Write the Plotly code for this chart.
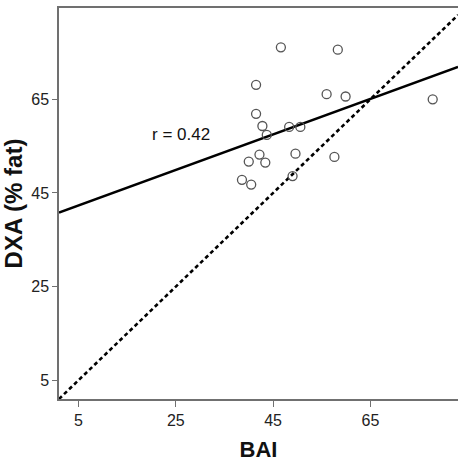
import plotly.graph_objects as go

# Data
bai = [46.6, 58.3, 41.5, 56.0, 59.9, 77.8, 41.5, 42.8, 43.7, 48.3,
       50.6, 42.2, 40.0, 43.4, 49.6, 57.6, 38.6, 40.5, 49.0]
dxa = [76.1, 75.6, 68.1, 66.1, 65.6, 65.0, 61.9, 59.3, 57.4, 59.1,
       59.1, 53.2, 51.7, 51.5, 53.4, 52.7, 47.8, 46.8, 48.6]

fit_x = [1, 83]
fit_y = [40.8, 71.9]
ident_x = [1, 83]
ident_y = [1, 83]

tick_vals = [5, 25, 45, 65]
tick_text = ["5", "25", "45", "65"]

fig = go.Figure()
fig.add_trace(go.Scatter(x=ident_x, y=ident_y, mode="lines",
                         line=dict(color="black", width=2.6, dash="4px,3px"),
                         showlegend=False, hoverinfo="skip"))
fig.add_trace(go.Scatter(x=fit_x, y=fit_y, mode="lines",
                         line=dict(color="black", width=2.4),
                         showlegend=False, hoverinfo="skip"))
fig.add_trace(go.Scatter(x=bai, y=dxa, mode="markers",
                         marker=dict(symbol="circle-open", size=9,
                                     color="#555555", line=dict(width=1.3)),
                         showlegend=False))

fig.add_annotation(x=26.0, y=57.5, xref="x", yref="y", text="r = 0.42",
                   showarrow=False,
                   font=dict(family="Liberation Sans, Arial", size=17, color="#111111"))

tickfont = dict(family="Liberation Sans Narrow, Arial Narrow, Liberation Sans, Arial",
                size=16, color="#222222")

fig.update_xaxes(range=[1, 83], tickvals=tick_vals, ticktext=tick_text,
                 showgrid=False, zeroline=False, showline=True, mirror=True,
                 linecolor="#707070", linewidth=1.5, ticks="outside",
                 ticklen=6, tickwidth=1.3, tickcolor="#707070",
                 tickfont=tickfont,
                 title=dict(text="<b>BAI</b>", standoff=14,
                            font=dict(family="Liberation Sans, Arial", size=22, color="#111111")))
fig.update_yaxes(range=[1, 84.5], tickvals=tick_vals, ticktext=tick_text,
                 showgrid=False, zeroline=False, showline=True, mirror=False,
                 linecolor="#707070", linewidth=1.5, ticks="outside",
                 ticklen=5, tickwidth=1.3, tickcolor="#707070",
                 tickfont=tickfont,
                 title=dict(text="<b>DXA (% fat)</b>", standoff=8,
                            font=dict(family="Liberation Sans, Arial", size=24, color="#111111")))

fig.update_layout(width=458, height=463,
                  margin=dict(l=59, r=0, t=8, b=64),
                  paper_bgcolor="white", plot_bgcolor="white")

fig.write_html("out.html")
